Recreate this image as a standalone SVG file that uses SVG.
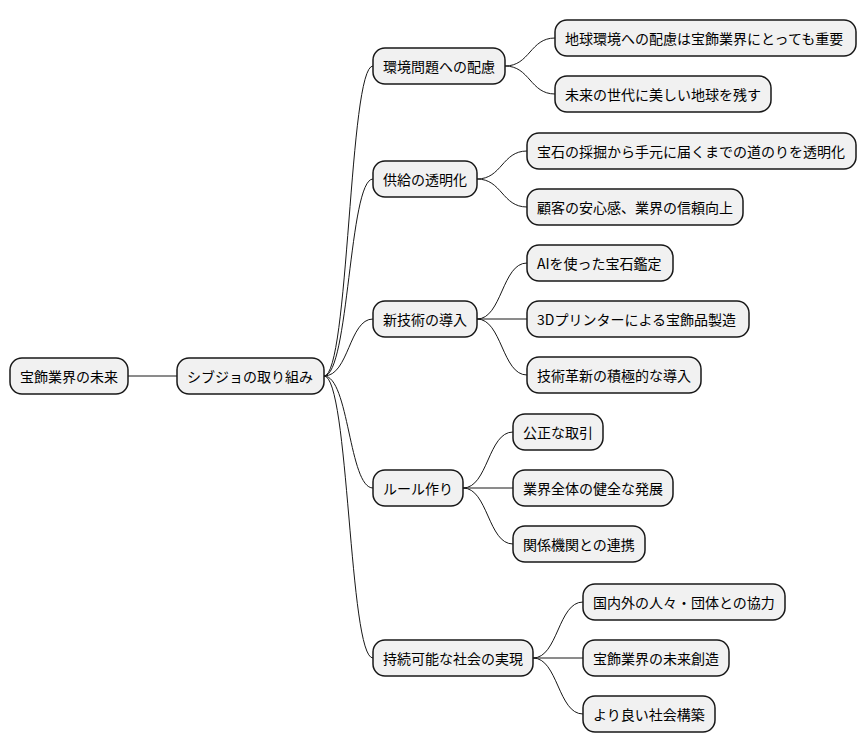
<svg xmlns="http://www.w3.org/2000/svg" width="866" height="752" viewBox="0 0 866 752">
<style>
.n rect{fill:#F1F1F1;stroke:#181818;stroke-width:1.5}
.n text{font-family:"Noto Sans CJK JP","Noto Sans",sans-serif;font-size:14px;fill:#000;dominant-baseline:central}
#edges path{fill:none;stroke:#181818;stroke-width:1}
</style>
<rect width="866" height="752" fill="#fff"/>
<g id="edges">
<path d="M128,376 L177,376"/>
<path d="M324,376 C349,376 349,66 373,66"/>
<path d="M324,376 C349,376 349,179 373,179"/>
<path d="M324,376 C349,376 349,319 373,319"/>
<path d="M324,376 C349,376 349,488 373,488"/>
<path d="M324,376 C349,376 349,658 373,658"/>
<path d="M505,66 C530,66 530,38 555,38"/>
<path d="M505,66 C530,66 530,94 555,94"/>
<path d="M477,179 C502,179 502,151 527,151"/>
<path d="M477,179 C502,179 502,207 527,207"/>
<path d="M477,319 C502,319 502,263 527,263"/>
<path d="M477,319 L527,319"/>
<path d="M477,319 C502,319 502,375 527,375"/>
<path d="M463,488 C488,488 488,432 513,432"/>
<path d="M463,488 L513,488"/>
<path d="M463,488 C488,488 488,544 513,544"/>
<path d="M533,658 C558,658 558,602 583,602"/>
<path d="M533,658 L583,658"/>
<path d="M533,658 C558,658 558,714 583,714"/>
</g>
<g id="root" class="n"><rect x="10" y="358" width="118" height="36" rx="12"/><text x="20" y="376">宝飾業界の未来</text></g>
<g id="n1" class="n"><rect x="177" y="358" width="147" height="36" rx="12"/><text x="187" y="376">シブジョの取り組み</text></g>
<g id="a" class="n"><rect x="373" y="48" width="132" height="36" rx="12"/><text x="383" y="66">環境問題への配慮</text></g>
<g id="b" class="n"><rect x="373" y="161" width="104" height="36" rx="12"/><text x="383" y="179">供給の透明化</text></g>
<g id="c" class="n"><rect x="373" y="301" width="104" height="36" rx="12"/><text x="383" y="319">新技術の導入</text></g>
<g id="d" class="n"><rect x="373" y="470" width="90" height="36" rx="12"/><text x="383" y="488">ルール作り</text></g>
<g id="e" class="n"><rect x="373" y="640" width="160" height="36" rx="12"/><text x="383" y="658">持続可能な社会の実現</text></g>
<g id="a1" class="n"><rect x="555" y="20" width="301" height="36" rx="12"/><text x="565" y="38">地球環境への配慮は宝飾業界にとっても重要</text></g>
<g id="a2" class="n"><rect x="555" y="76" width="216" height="36" rx="12"/><text x="565" y="94">未来の世代に美しい地球を残す</text></g>
<g id="b1" class="n"><rect x="527" y="133" width="329" height="36" rx="12"/><text x="537" y="151">宝石の採掘から手元に届くまでの道のりを透明化</text></g>
<g id="b2" class="n"><rect x="527" y="189" width="216" height="36" rx="12"/><text x="537" y="207">顧客の安心感、業界の信頼向上</text></g>
<g id="c1" class="n"><rect x="527" y="245" width="146" height="36" rx="12"/><text x="537" y="263">AIを使った宝石鑑定</text></g>
<g id="c2" class="n"><rect x="527" y="301" width="222" height="36" rx="12"/><text x="537" y="319">3Dプリンターによる宝飾品製造</text></g>
<g id="c3" class="n"><rect x="527" y="357" width="174" height="36" rx="12"/><text x="537" y="375">技術革新の積極的な導入</text></g>
<g id="d1" class="n"><rect x="513" y="414" width="90" height="36" rx="12"/><text x="523" y="432">公正な取引</text></g>
<g id="d2" class="n"><rect x="513" y="470" width="160" height="36" rx="12"/><text x="523" y="488">業界全体の健全な発展</text></g>
<g id="d3" class="n"><rect x="513" y="526" width="132" height="36" rx="12"/><text x="523" y="544">関係機関との連携</text></g>
<g id="e1" class="n"><rect x="583" y="584" width="202" height="36" rx="12"/><text x="593" y="602">国内外の人々・団体との協力</text></g>
<g id="e2" class="n"><rect x="583" y="640" width="146" height="36" rx="12"/><text x="593" y="658">宝飾業界の未来創造</text></g>
<g id="e3" class="n"><rect x="583" y="696" width="132" height="36" rx="12"/><text x="593" y="714">より良い社会構築</text></g>
</svg>
